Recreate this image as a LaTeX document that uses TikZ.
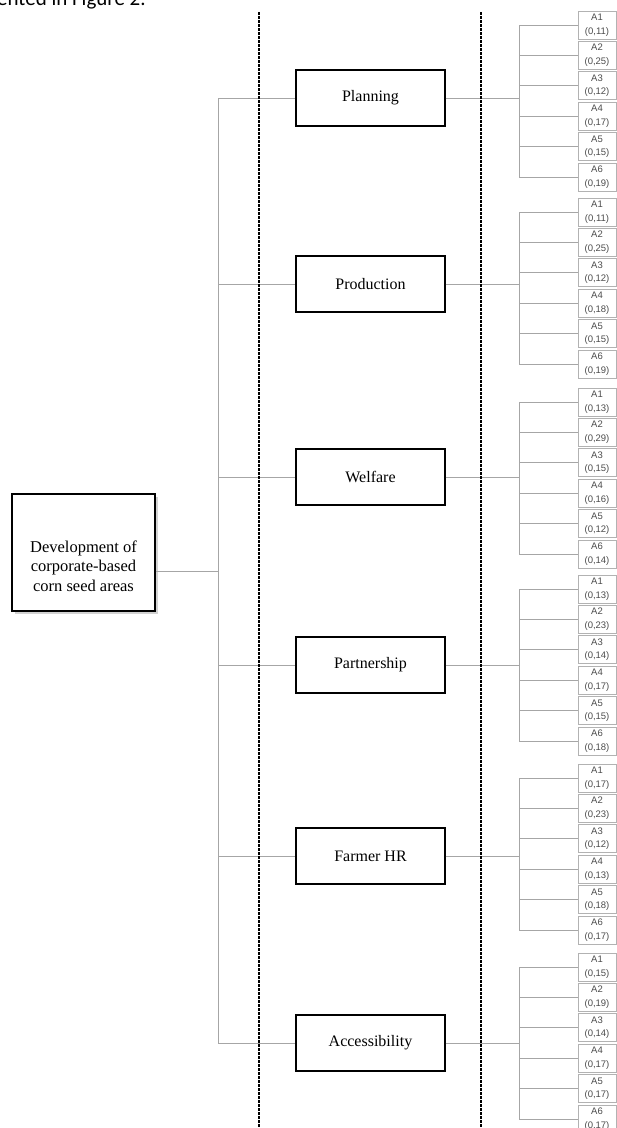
\documentclass[tikz,border=0pt]{standalone}
\usepackage{fontspec}
\setmainfont{Liberation Serif}
\newfontfamily\leaffont{Liberation Sans}
\newfontfamily\topfont{Carlito}
\begin{document}
\begin{tikzpicture}[x=1pt,y=-1pt,
  conn/.style={draw=gray!70, line width=0.9pt},
  mainbox/.style={draw=black, fill=white, line width=1.3pt, minimum width=149pt, minimum height=56pt, inner sep=0pt, font=\fontsize{16}{18}\selectfont},
  rootbox/.style={draw=black, fill=white, line width=1.3pt, minimum width=143pt, minimum height=117pt, inner sep=0pt},
  rootlab/.style={inner sep=0pt, align=center, font=\fontsize{16.5}{19.5}\selectfont},
  leaf/.style={draw=gray!60, fill=white, line width=0.8pt, minimum width=38pt, minimum height=28pt, inner sep=0pt, align=center, text=black!70, font=\leaffont\fontsize{9.5}{13.5}\selectfont},
  divider/.style={line width=2.4pt, dash pattern=on 2.5pt off 1.5pt}]
\clip (0,0) rectangle (617,1128);
\fill[white] (0,0) rectangle (617,1128);
\node[anchor=base west, inner sep=0pt, font=\topfont\fontsize{21}{21}\selectfont] (cap) at (-3,5) {ented in Figure 2.};
% dividers
\coordinate (d1t) at (259,12); \coordinate (d1b) at (259,1128);
\coordinate (d2t) at (481,12); \coordinate (d2b) at (481,1128);
\coordinate (spineL) at (218,0);
% root
\fill[gray!35] (14.5,497) rectangle (158,614);
\node[rootbox] (root) at (83.5,552.5) {};
\node[rootlab] (rootlabel) at (83.5,566) {Development of\\corporate-based\\corn seed areas};
\coordinate (rj) at ([yshift=-19pt]root.east);
\draw[conn] (rj) -- (rj -| spineL);
\foreach \g/\lab/\my/\fy/\vals in {
 1/Planning/98/25/{11,25,12,17,15,19},
 2/Production/284/212/{11,25,12,18,15,19},
 3/Welfare/477/402/{13,29,15,16,12,14},
 4/Partnership/665/589/{13,23,14,17,15,18},
 5/Farmer HR/856/778/{17,23,12,13,18,17},
 6/Accessibility/1043/967/{15,19,14,17,17,17}}
{
  \node[mainbox] (m\g) at (370.5,\my) {\lab};
  \draw[conn] (m\g.west -| spineL) -- (m\g.west);
  \coordinate (r\g) at (519,\my);
  \draw[conn] (m\g.east) -- (r\g);
  \foreach \v [count=\k] in \vals {
    \node[leaf] (l\g-\k) at (597,{\fy+30.4*(\k-1)}) {A\k\\(0,\v)};
    \draw[conn] (l\g-\k.west -| r\g) -- (l\g-\k.west);
  }
  \draw[conn] (l\g-1.west -| r\g) -- (l\g-6.west -| r\g);
}
\draw[conn] (m1.west -| spineL) -- (m6.west -| spineL);
\draw[divider] (d1t) -- (d1b);
\draw[divider] (d2t) -- (d2b);
\end{tikzpicture}
\end{document}
